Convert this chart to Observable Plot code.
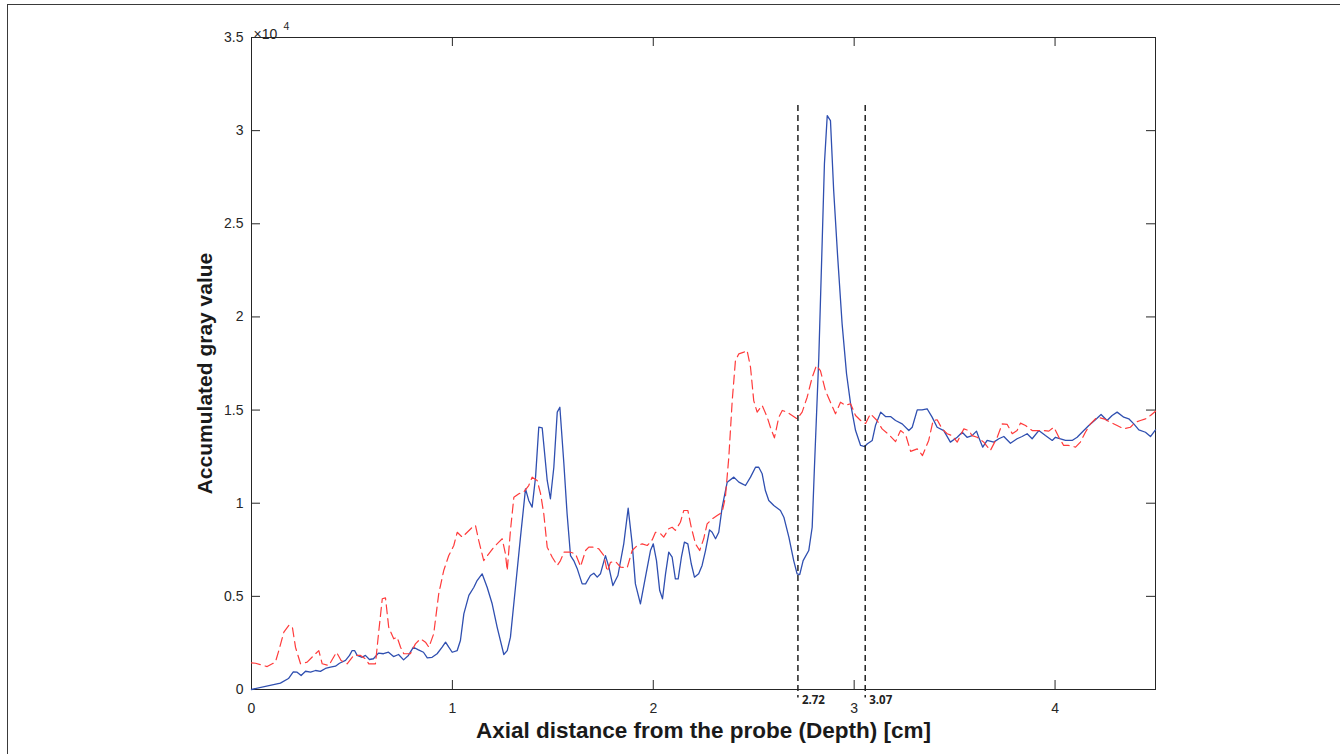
<!DOCTYPE html>
<html><head><meta charset="utf-8">
<script src="https://cdn.jsdelivr.net/npm/d3@7"></script>
<script src="https://cdn.jsdelivr.net/npm/@observablehq/plot@0.6"></script>
<style>
html,body{margin:0;padding:0;background:#fff;}
#wrap{position:relative;width:1340px;height:754px;overflow:hidden;}
#frame{position:absolute;left:7px;top:4px;width:1340px;height:760px;border-top:1.5px solid #3a3a3a;border-left:1.5px solid #3a3a3a;pointer-events:none;}
</style></head><body><div id="wrap"><div id="frame"></div></div>
<script>
// [depth (cm), accumulated gray value]
const blueSeries = [[0,0],[0.144,340],[0.184,590],[0.208,950],[0.227,930],[0.247,750],[0.269,980],[0.294,930],[0.319,1020],[0.343,970],[0.368,1130],[0.393,1200],[0.418,1250],[0.438,1410],[0.468,1560],[0.488,1830],[0.501,2090],[0.513,2090],[0.526,1830],[0.551,1730],[0.567,1830],[0.587,1610],[0.607,1650],[0.632,1950],[0.657,1920],[0.682,2000],[0.707,1770],[0.732,1880],[0.757,1590],[0.781,1830],[0.806,2270],[0.831,2130],[0.856,2000],[0.875,1700],[0.899,1730],[0.924,1920],[0.949,2270],[0.966,2540],[0.982,2270],[0.999,2000],[1.024,2090],[1.040,2630],[1.057,4060],[1.082,5050],[1.107,5490],[1.123,5850],[1.148,6210],[1.173,5490],[1.198,4600],[1.223,3340],[1.256,1880],[1.273,2090],[1.289,2810],[1.314,5490],[1.339,8180],[1.364,10770],[1.380,10150],[1.397,9790],[1.414,11400],[1.430,14080],[1.447,14050],[1.472,11220],[1.488,10240],[1.505,11930],[1.522,14890],[1.535,15150],[1.555,12120],[1.571,9430],[1.588,7190],[1.604,6920],[1.621,6500],[1.646,5670],[1.663,5670],[1.687,6120],[1.704,6240],[1.721,6030],[1.737,6210],[1.762,7190],[1.779,6570],[1.799,5580],[1.824,6120],[1.853,7820],[1.875,9730],[1.895,7820],[1.911,5670],[1.936,4600],[1.961,6030],[1.986,7460],[2.000,7820],[2.016,6920],[2.032,5310],[2.046,4870],[2.061,6210],[2.077,7370],[2.094,7100],[2.110,5940],[2.124,5940],[2.140,7100],[2.155,7910],[2.172,7820],[2.189,6750],[2.205,6030],[2.226,6210],[2.243,6660],[2.260,7460],[2.280,8570],[2.293,8440],[2.310,8090],[2.326,8440],[2.343,9790],[2.368,11130],[2.401,11400],[2.426,11130],[2.443,11040],[2.459,10950],[2.484,11400],[2.509,11930],[2.525,11930],[2.542,11580],[2.558,10680],[2.575,10150],[2.600,9880],[2.633,9610],[2.650,9250],[2.675,8180],[2.699,6920],[2.716,6210],[2.729,6170],[2.746,6920],[2.774,7460],[2.791,8710],[2.802,11860],[2.824,17840],[2.841,24100],[2.852,28240],[2.866,30810],[2.882,30540],[2.898,26790],[2.918,23210],[2.940,19630],[2.962,16950],[2.982,15350],[3.007,13900],[3.032,13100],[3.052,13040],[3.066,13190],[3.090,13370],[3.106,14170],[3.132,14890],[3.156,14650],[3.181,14650],[3.206,14440],[3.239,14260],[3.272,13900],[3.289,14080],[3.314,15010],[3.338,15010],[3.363,15070],[3.388,14620],[3.413,14080],[3.446,13900],[3.479,13280],[3.513,13540],[3.538,13810],[3.562,13540],[3.587,13630],[3.609,13870],[3.620,13540],[3.640,13010],[3.662,13370],[3.695,13280],[3.720,13460],[3.745,13580],[3.778,13220],[3.811,13460],[3.836,13580],[3.861,13730],[3.886,13460],[3.919,13900],[3.952,13630],[3.986,13370],[4.002,13540],[4.027,13460],[4.052,13370],[4.085,13370],[4.110,13540],[4.143,13900],[4.168,14170],[4.201,14480],[4.229,14760],[4.259,14440],[4.284,14710],[4.309,14890],[4.342,14620],[4.367,14530],[4.392,14260],[4.417,13940],[4.450,13810],[4.475,13580],[4.500,13940]];

const redSeries = [[0,1430],[0.020,1410],[0.078,1230],[0.119,1470],[0.136,2090],[0.161,3080],[0.186,3440],[0.203,3380],[0.219,2270],[0.244,1380],[0.277,1470],[0.310,1830],[0.335,2090],[0.352,1380],[0.385,1290],[0.423,2000],[0.446,1560],[0.476,1380],[0.509,1830],[0.543,1830],[0.567,1650],[0.584,1380],[0.617,1380],[0.634,3170],[0.651,4870],[0.667,4920],[0.683,3340],[0.708,2720],[0.725,2810],[0.742,2270],[0.758,1920],[0.791,1920],[0.816,2450],[0.841,2720],[0.866,2540],[0.883,2270],[0.907,2990],[0.932,5140],[0.957,6390],[0.982,7190],[1.007,7730],[1.024,8440],[1.049,8180],[1.074,8440],[1.099,8710],[1.115,8800],[1.131,8000],[1.156,6920],[1.181,7280],[1.206,7640],[1.231,7910],[1.248,8090],[1.264,7280],[1.273,6390],[1.289,8540],[1.306,10320],[1.331,10510],[1.355,10590],[1.380,10950],[1.397,11400],[1.422,11220],[1.439,10510],[1.455,9430],[1.472,7640],[1.497,7100],[1.522,6660],[1.538,6920],[1.555,7370],[1.588,7370],[1.613,7280],[1.638,6600],[1.663,7460],[1.679,7640],[1.704,7640],[1.729,7550],[1.754,7190],[1.771,6330],[1.787,6830],[1.812,6870],[1.837,6570],[1.870,6530],[1.895,7460],[1.920,7730],[1.945,7820],[1.970,7730],[1.995,8040],[2.011,8440],[2.036,8360],[2.052,8180],[2.077,8630],[2.094,8710],[2.110,8540],[2.135,8980],[2.152,9610],[2.172,9610],[2.189,8710],[2.210,7820],[2.231,7460],[2.251,8090],[2.268,8890],[2.293,9160],[2.318,9340],[2.343,9520],[2.359,10320],[2.376,12470],[2.393,15510],[2.409,17660],[2.426,18020],[2.451,18110],[2.467,18200],[2.484,17300],[2.500,15510],[2.517,14890],[2.542,15250],[2.567,14620],[2.583,14080],[2.603,13510],[2.625,14620],[2.642,14980],[2.666,14890],[2.691,14710],[2.716,14530],[2.741,14890],[2.766,15690],[2.791,16760],[2.812,17390],[2.832,17120],[2.857,16050],[2.882,15420],[2.907,14800],[2.932,15420],[2.957,15250],[2.982,15340],[3.007,14710],[3.032,14440],[3.057,14280],[3.081,14800],[3.114,14440],[3.139,13990],[3.172,13690],[3.206,13310],[3.231,13900],[3.256,13690],[3.281,12780],[3.314,12920],[3.340,12560],[3.371,13370],[3.393,14440],[3.413,14480],[3.438,13990],[3.463,13730],[3.488,13630],[3.513,13280],[3.546,13990],[3.571,13900],[3.587,13630],[3.612,13540],[3.645,13280],[3.678,12830],[3.712,13540],[3.737,14260],[3.762,14230],[3.787,13730],[3.811,13900],[3.828,14300],[3.853,14170],[3.886,13900],[3.911,13900],[3.944,13900],[3.969,13870],[3.994,14080],[4.019,13540],[4.043,13100],[4.068,13100],[4.102,13010],[4.126,13280],[4.151,13810],[4.176,14260],[4.210,14620],[4.243,14530],[4.276,14350],[4.309,14170],[4.342,13990],[4.375,14080],[4.400,14350],[4.425,14440],[4.450,14530],[4.475,14710],[4.500,14940]];

const markerDepths = [2.72, 3.055];
const markerLabels = ["2.72", "3.07"];
const markerTop = 31350;
const xTicks = [0, 1, 2, 3, 4];
const xTickLabels = ["0", "1", "2", "3", "4"];
const yTicks = [0, 5000, 10000, 15000, 20000, 25000, 30000, 35000];
const yTickLabels = ["0", "0.5", "1", "1.5", "2", "2.5", "3", "3.5"];
const xTitle = "Axial distance from the probe (Depth) [cm]";
const yTitle = "Accumulated gray value";

const W = 1340, H = 754, mL = 251, mR = 185, mT = 37, mB = 65;
const innerW = W - mL - mR, innerH = H - mT - mB, tickLen = 9;
const axisColor = "#262626";
const chart = Plot.plot({
  width: W, height: H,
  marginLeft: mL, marginRight: mR, marginTop: mT, marginBottom: mB,
  style: {fontFamily: "'Liberation Sans', Arial, Helvetica, sans-serif", fontSize: "14px", color: axisColor, background: "transparent"},
  x: {domain: [0, 4.5], label: null},
  y: {domain: [0, 35000], label: null},
  marks: [
    Plot.axisX(xTicks, {anchor: "bottom", tickSize: 0, tickPadding: 14, tickFormat: d => xTickLabels[xTicks.indexOf(d)], fontSize: 14, label: null}),
    Plot.axisY(yTicks, {anchor: "left", tickSize: 0, tickPadding: 8, tickFormat: d => yTickLabels[yTicks.indexOf(d)], fontSize: 14, label: null}),
    // inward ticks on all four sides
    Plot.ruleX(xTicks, {x: d => d, insetTop: innerH - tickLen, stroke: axisColor}),
    Plot.ruleX(xTicks, {x: d => d, insetBottom: innerH - tickLen, stroke: axisColor}),
    Plot.ruleY(yTicks, {y: d => d, insetRight: innerW - tickLen, stroke: axisColor}),
    Plot.ruleY(yTicks, {y: d => d, insetLeft: innerW - tickLen, stroke: axisColor}),
    Plot.frame({stroke: axisColor, strokeWidth: 1}),
    Plot.line(blueSeries, {x: d => d[0], y: d => d[1], stroke: "#2f4fb0", strokeWidth: 1.3}),
    Plot.line(redSeries, {x: d => d[0], y: d => d[1], stroke: "#ff3b3b", strokeWidth: 1.2, strokeDasharray: "9,5"}),
    Plot.ruleX(markerDepths, {x: d => d, y1: markerTop, y2: -450, stroke: "#222", strokeWidth: 1.5, strokeDasharray: "6,4", clip: false}),
    Plot.text(markerDepths, {x: d => d, text: (d, i) => markerLabels[i], frameAnchor: "bottom", dy: 14, dx: 4, textAnchor: "start", fontWeight: "bold", fontSize: 11.5, fontFamily: "'Open Sans', sans-serif", fill: "#222"}),
    Plot.text(["×10"], {frameAnchor: "top-left", dx: 2, dy: -8, textAnchor: "start", fontSize: 14, fill: axisColor}),
    Plot.text(["4"], {frameAnchor: "top-left", dx: 32, dy: -15, textAnchor: "start", fontSize: 10.5, fill: axisColor}),
    Plot.text([xTitle], {frameAnchor: "bottom", dy: 48, textAnchor: "middle", fontWeight: "bold", fontSize: 22.5, fill: "#1a1a1a"}),
    Plot.text([yTitle], {frameAnchor: "left", dx: -46, dy: 10, rotate: -90, textAnchor: "middle", fontWeight: "bold", fontSize: 21, fill: "#1a1a1a"})
  ]
});
document.getElementById("wrap").insertBefore(chart, document.getElementById("frame"));
</script>
</body></html>
